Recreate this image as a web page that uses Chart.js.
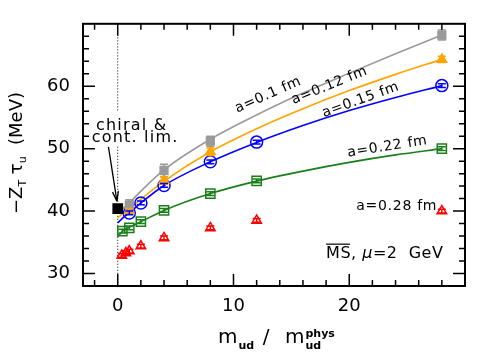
<!DOCTYPE html>
<html>
<head>
<meta charset="utf-8">
<script src="https://cdn.jsdelivr.net/npm/chart.js@4.4.0/dist/chart.umd.min.js"></script>
<style>
  html, body { margin: 0; padding: 0; background: #fff; }
  #wrap { width: 491px; height: 356px; }
</style>
</head>
<body>
<div id="wrap"><canvas id="chart" width="491" height="356"></canvas></div>
<script>
// данные: m_ud / m_ud^phys и -Z_T tau_u (MeV)
const grayX = [1, 4, 8, 28];
const grayY = [41.0, 46.5, 51.2, 68.2];
const grayErr = [0.8, 1.0, 0.8, 0.8];

const orangeX = [1, 4, 8, 28];
const orangeY = [40.0, 44.9, 49.5, 64.3];
const orangeErr = [0.4, 0.6, 0.6, 0.5];

const blueX = [1, 2, 4, 8, 12, 28];
const blueY = [39.7, 41.3, 44.1, 47.9, 51.05, 60.1];
const blueErr = [0.3, 0.3, 0.3, 0.3, 0.3, 0.3];

const greenX = [0.4, 1, 2, 4, 8, 12, 28];
const greenY = [36.8, 37.3, 38.3, 40.1, 42.8, 44.85, 50.0];
const greenErr = [0.3, 0.3, 0.3, 0.3, 0.3, 0.3, 0.3];

const redX = [0.35, 0.7, 1, 2, 4, 8, 12, 28];
const redY = [32.9, 33.3, 33.6, 34.4, 35.7, 37.3, 38.5, 40.0];
const redErr = [0.3, 0.3, 0.3, 0.3, 0.3, 0.3, 0.3, 0.3];

const limitX = [0];
const limitY = [40.4];
const limitErr = [0.5];

// кривые фита
const curveX = [0, 0.5, 1, 2, 4, 8, 12, 16, 20, 24, 28];
const grayCurve = [39.6, 40.5, 41.3, 43.2, 46.6, 51.5, 55.4, 58.9, 62.1, 65.2, 68.2];
const orangeCurve = [38.9, 39.7, 40.3, 41.9, 44.8, 49.5, 53.2, 56.4, 59.3, 61.9, 64.3];
const blueCurve = [38.1, 39.0, 39.7, 41.3, 44.1, 47.9, 51.0, 53.7, 56.1, 58.2, 60.1];
const greenCurve = [35.9, 36.9, 37.4, 38.3, 40.1, 42.8, 44.8, 46.4, 47.8, 49.0, 50.0];

// оси
const xMin = -3, xMax = 30, yMin = 28, yMax = 70;
const xTickLabels = [0, 10, 20];
const yTickLabels = [30, 40, 50, 60];

// пунктир x = 0
const dotUpperY = [68.3, 55.9];
const dotLowerY = [50.3, 28];

const GRAY = '#9a9a9a', ORANGE = '#ffa500', BLUE = '#0000ff', GREEN = '#1a7f1a', RED = '#ff0000';
const FONT = '"DejaVu Sans", sans-serif';

const pts = (xs, ys) => xs.map((x, i) => ({ x: x, y: ys[i] }));

function curve(ys, color) {
  return {
    type: 'line', data: pts(curveX, ys), borderColor: color, borderWidth: 1.6,
    pointRadius: 0, fill: false, cubicInterpolationMode: 'monotone', order: 2
  };
}

function markers(xs, ys, errs, color, style, filled, radius) {
  return {
    type: 'scatter', data: pts(xs, ys), errors: errs,
    borderColor: color, backgroundColor: filled ? color : 'rgba(0,0,0,0)',
    pointStyle: style, pointRadius: radius, pointBorderWidth: 1.5, order: 1
  };
}

// вертикальные ошибки
const errorBars = {
  id: 'errorBars',
  afterDatasetsDraw(chart) {
    const ctx = chart.ctx;
    const xs = chart.scales.x, ys = chart.scales.y;
    chart.data.datasets.forEach(ds => {
      if (!ds.errors) return;
      ctx.save();
      ctx.strokeStyle = ds.borderColor;
      ctx.lineWidth = 1.5;
      ds.data.forEach((p, i) => {
        const e = ds.errors[i];
        const px = xs.getPixelForValue(p.x);
        const top = ys.getPixelForValue(p.y + e);
        const bot = ys.getPixelForValue(p.y - e);
        ctx.beginPath();
        ctx.moveTo(px, top); ctx.lineTo(px, bot);
        ctx.moveTo(px - 4, top); ctx.lineTo(px + 4, top);
        ctx.moveTo(px - 4, bot); ctx.lineTo(px + 4, bot);
        ctx.stroke();
      });
      ctx.restore();
    });
  }
};

// рамка и засечки внутрь
const frame = {
  id: 'frame',
  afterDraw(chart) {
    const ctx = chart.ctx, a = chart.chartArea;
    const xs = chart.scales.x, ys = chart.scales.y;
    ctx.save();
    ctx.strokeStyle = '#000';
    ctx.lineWidth = 2;
    ctx.strokeRect(a.left, a.top, a.right - a.left, a.bottom - a.top);
    ctx.lineWidth = 1.5;
    ctx.beginPath();
    for (let v = -2; v < xMax; v += 2) {
      const px = xs.getPixelForValue(v);
      const len = v % 10 === 0 ? 12 : 6;
      ctx.moveTo(px, a.bottom); ctx.lineTo(px, a.bottom - len);
      ctx.moveTo(px, a.top); ctx.lineTo(px, a.top + len);
    }
    for (let v = 30; v < yMax; v += 2) {
      const py = ys.getPixelForValue(v);
      const len = v % 10 === 0 ? 12 : 6;
      ctx.moveTo(a.left, py); ctx.lineTo(a.left + len, py);
      ctx.moveTo(a.right, py); ctx.lineTo(a.right - len, py);
    }
    ctx.stroke();
    ctx.restore();
  }
};

// подписи, стрелка, заголовки осей
const notes = {
  id: 'notes',
  afterDraw(chart) {
    const ctx = chart.ctx;
    const xs = chart.scales.x, ys = chart.scales.y;
    const X = v => xs.getPixelForValue(v), Y = v => ys.getPixelForValue(v);
    ctx.save();
    ctx.fillStyle = '#000';
    ctx.textAlign = 'center';
    ctx.textBaseline = 'middle';

    const labels = [
      ['a=0.1 fm', 13.0, 58.6, -24],
      ['a=0.12 fm', 18.3, 60.1, -22],
      ['a=0.15 fm', 21.0, 57.8, -20],
      ['a=0.22 fm', 23.3, 50.3, -9],
      ['a=0.28 fm', 24.1, 40.7, 0]
    ];
    ctx.font = '14px ' + FONT;
    ctx.letterSpacing = '0.7px';
    labels.forEach(l => {
      ctx.save();
      ctx.translate(X(l[1]), Y(l[2]));
      ctx.rotate(l[3] * Math.PI / 180);
      ctx.fillText(l[0], 0, 0);
      ctx.restore();
    });

    ctx.font = '16px ' + FONT;
    ctx.letterSpacing = '1.2px';
    ctx.fillText('chiral &', X(1.2), Y(53.7));
    ctx.fillText('cont. lim.', X(1.5), Y(51.7));

    // стрелка
    const x0 = X(-0.8), y0 = Y(50.3), x1 = X(-0.07), y1 = Y(41.6);
    ctx.strokeStyle = '#000';
    ctx.lineWidth = 1.3;
    ctx.beginPath(); ctx.moveTo(x0, y0); ctx.lineTo(x1, y1); ctx.stroke();
    const ang = Math.atan2(y1 - y0, x1 - x0);
    ctx.beginPath();
    ctx.moveTo(x1, y1);
    ctx.lineTo(x1 - 10 * Math.cos(ang - 0.3), y1 - 10 * Math.sin(ang - 0.3));
    ctx.moveTo(x1, y1);
    ctx.lineTo(x1 - 10 * Math.cos(ang + 0.3), y1 - 10 * Math.sin(ang + 0.3));
    ctx.stroke();

    // MS-bar, mu = 2 GeV
    ctx.textAlign = 'left';
    ctx.font = '16px ' + FONT;
    ctx.letterSpacing = '0.5px';
    const sx = X(18.0), sy = Y(33.1);
    ctx.fillText('MS', sx, sy);
    const wMS = ctx.measureText('MS').width;
    ctx.lineWidth = 1.2;
    ctx.beginPath(); ctx.moveTo(sx, sy - 10); ctx.lineTo(sx + wMS - 1, sy - 10); ctx.stroke();
    ctx.fillText(', ', sx + wMS, sy);
    let cx = sx + wMS + ctx.measureText(', ').width;
    ctx.font = 'italic 16px ' + FONT;
    ctx.fillText('\u03bc', cx, sy);
    cx += ctx.measureText('\u03bc').width;
    ctx.font = '16px ' + FONT;
    ctx.fillText('=2  GeV', cx, sy);
    ctx.letterSpacing = '0px';

    // заголовок оси X
    const bx = 218, by = 338;
    ctx.font = '20px ' + FONT;
    ctx.fillText('m', bx, by);
    let px = bx + ctx.measureText('m').width;
    ctx.font = 'bold 11px ' + FONT;
    ctx.fillText('ud', px + 1, by + 8);
    ctx.font = '20px ' + FONT;
    ctx.textAlign = 'center';
    ctx.fillText('/', 266, by);
    ctx.textAlign = 'left';
    px = 285;
    ctx.fillText('m', px, by);
    px += ctx.measureText('m').width;
    ctx.font = 'bold 11px ' + FONT;
    ctx.fillText('phys', px + 1, by - 4);
    ctx.fillText('ud', px + 1, by + 8);

    // заголовок оси Y
    ctx.save();
    ctx.translate(17, 153);
    ctx.rotate(-Math.PI / 2);
    const parts = [
      ['\u2212Z', '18px', 0], ['T', '11px', 6], [' \u03c4', '18px', 0], ['u', '11px', 6], ['  (MeV)', '18px', 0]
    ];
    let total = 0;
    parts.forEach(p => { ctx.font = p[1] + ' ' + FONT; total += ctx.measureText(p[0]).width; });
    let tx = -total / 2;
    parts.forEach(p => {
      ctx.font = p[1] + ' ' + FONT;
      ctx.fillText(p[0], tx, p[2]);
      tx += ctx.measureText(p[0]).width;
    });
    ctx.restore();

    ctx.restore();
  }
};

const datasets = [
  { type: 'line', data: pts([0, 0], dotUpperY), borderColor: '#000', borderWidth: 1, borderDash: [1, 2], pointRadius: 0, order: 3 },
  { type: 'line', data: pts([0, 0], dotLowerY), borderColor: '#000', borderWidth: 1, borderDash: [1, 2], pointRadius: 0, order: 3 },
  curve(grayCurve, GRAY),
  curve(orangeCurve, ORANGE),
  curve(blueCurve, BLUE),
  curve(greenCurve, GREEN),
  markers(grayX, grayY, grayErr, GRAY, 'rect', true, 5.5),
  markers(orangeX, orangeY, orangeErr, ORANGE, 'triangle', true, 5.5),
  markers(blueX, blueY, blueErr, BLUE, 'circle', false, 6),
  markers(greenX, greenY, greenErr, GREEN, 'rect', false, 6.5),
  markers(redX, redY, redErr, RED, 'triangle', false, 5.5),
  markers(limitX, limitY, limitErr, '#000', 'rect', true, 6.5)
];

new Chart(document.getElementById('chart'), {
  data: { datasets: datasets },
  options: {
    responsive: false,
    animation: false,
    devicePixelRatio: 1,
    layout: { padding: { top: 16, right: 26, left: 0, bottom: 0 } },
    plugins: { legend: { display: false }, tooltip: { enabled: false } },
    scales: {
      x: {
        type: 'linear', min: xMin, max: xMax,
        grid: { display: false, drawTicks: false }, border: { display: false },
        afterFit: s => { s.height = 70; },
        afterBuildTicks: s => { s.ticks = xTickLabels.map(v => ({ value: v })); },
        ticks: { color: '#000', padding: 10, font: { size: 18, family: FONT } }
      },
      y: {
        type: 'linear', min: yMin, max: yMax,
        grid: { display: false, drawTicks: false }, border: { display: false },
        afterFit: s => { s.width = 83; },
        afterBuildTicks: s => { s.ticks = yTickLabels.map(v => ({ value: v })); },
        ticks: { color: '#000', padding: 13, font: { size: 18, family: FONT } }
      }
    }
  },
  plugins: [errorBars, frame, notes]
});
</script>
</body>
</html>
